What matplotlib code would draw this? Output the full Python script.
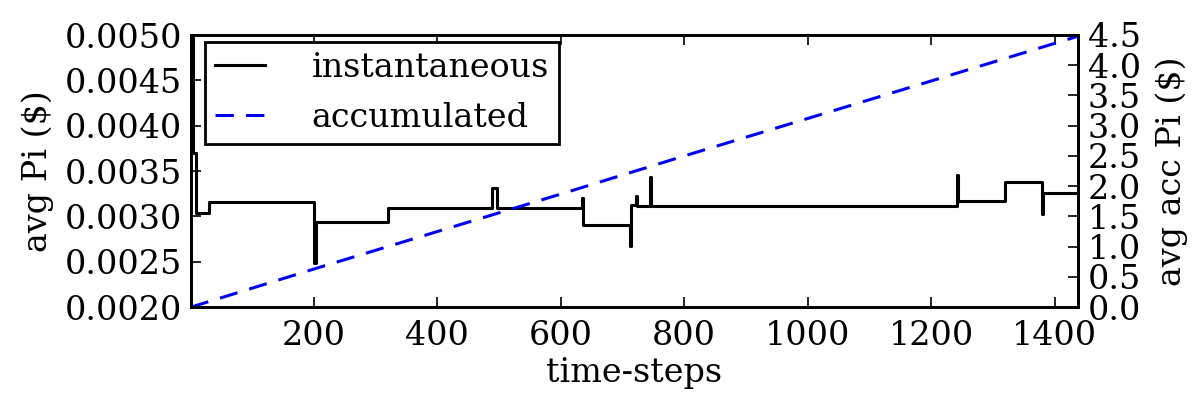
import matplotlib
matplotlib.use("Agg")
import matplotlib.pyplot as plt

# instantaneous avg Pi: step starts (time-step) and level from that step on
step_x = [1, 4, 10, 30, 201, 203, 320, 489, 497, 634, 636, 712, 714, 722, 724,
          745, 747, 1241, 1243, 1320, 1379, 1381, 1438]
step_y = [0.0058, 0.0037, 0.00304, 0.00316, 0.00249, 0.00294, 0.00309, 0.00331,
          0.00309, 0.00320, 0.00291, 0.00267, 0.00313, 0.00323, 0.00312,
          0.00344, 0.00311, 0.00346, 0.00317, 0.00338, 0.00303, 0.00326, 0.00326]

# accumulated avg Pi
acc_x = [1, 200, 400, 600, 800, 1000, 1200, 1438]
acc_y = [0.0, 0.63, 1.25, 1.87, 2.50, 3.12, 3.74, 4.48]

plt.rcParams['font.family'] = ['DejaVu Serif']
plt.rcParams['font.size'] = 24
plt.rcParams['xtick.direction'] = 'in'
plt.rcParams['ytick.direction'] = 'in'
plt.rcParams['xtick.top'] = True
plt.rcParams['xtick.major.size'] = 7
plt.rcParams['ytick.major.size'] = 7
plt.rcParams['xtick.major.width'] = 1.2
plt.rcParams['ytick.major.width'] = 1.2
plt.rcParams['axes.linewidth'] = 2

fig = plt.figure(figsize=(12, 4), dpi=100)
ax1 = fig.add_axes([0.159, 0.232, 0.7395, 0.6805])
ax2 = ax1.twinx()

l1, = ax1.plot(step_x, step_y, color='k', lw=2.2, drawstyle='steps-post', label='instantaneous')
l2, = ax2.plot(acc_x, acc_y, color='b', lw=2.2, dashes=(6, 4), label='accumulated')

ax1.set_xlim(1, 1438)
ax1.set_ylim(0.0020, 0.0050)
ax1.set_yticks([0.0020, 0.0025, 0.0030, 0.0035, 0.0040, 0.0045, 0.0050])
ax1.set_yticklabels(['0.0020', '0.0025', '0.0030', '0.0035', '0.0040', '0.0045', '0.0050'])
ax1.set_xticks([200, 400, 600, 800, 1000, 1200, 1400])
ax2.set_ylim(0, 4.5)
ax2.set_yticks([0.0, 0.5, 1.0, 1.5, 2.0, 2.5, 3.0, 3.5, 4.0, 4.5])
ax2.set_yticklabels(['0.0', '0.5', '1.0', '1.5', '2.0', '2.5', '3.0', '3.5', '4.0', '4.5'])
ax1.tick_params(axis='x', pad=9)
ax1.tick_params(axis='y', pad=6)
ax2.tick_params(axis='y', pad=7)

ax1.set_xlabel('time-steps', labelpad=4)
ax1.set_ylabel('avg Pi ($)', labelpad=8)
ax2.set_ylabel('avg acc Pi ($)', labelpad=10)

leg = ax2.legend([l1, l2], ['instantaneous', 'accumulated'], loc='upper left',
                 bbox_to_anchor=(0.016, 0.975), borderaxespad=0.0, fancybox=False,
                 framealpha=1, edgecolor='k', handlelength=1.5, handletextpad=1.4,
                 borderpad=0.3, labelspacing=0.55)
leg.get_frame().set_linewidth(2)

fig.savefig('out.png', dpi=100)
